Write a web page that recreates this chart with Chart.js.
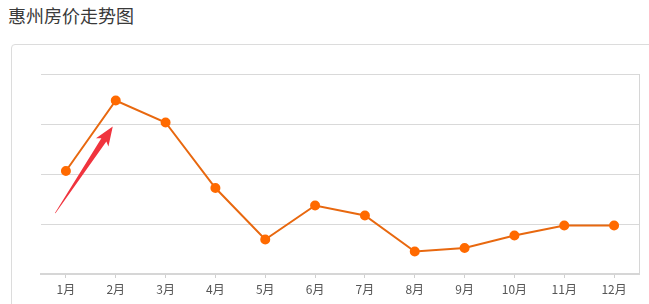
<!DOCTYPE html>
<html>
<head>
<meta charset="utf-8">
<script src="https://cdn.jsdelivr.net/npm/chart.js@4"></script>
<style>
    body { margin: 0; background: #fff; width: 649px; height: 304px; overflow: hidden; position: relative; }
    #title { position: absolute; left: 8px; top: 2px; font: 18px "Noto Sans CJK SC", sans-serif; color: #3a3a3a; }
    #card { position: absolute; left: 11px; top: 44px; width: 700px; height: 300px; border: 1px solid #dcdcdc; border-radius: 4px; background: #fff; }
    #wrap { position: absolute; left: 0; top: 0; width: 649px; height: 304px; }
</style>
</head>
<body>
<div id="title">惠州房价走势图</div>
<div id="card"></div>
<div id="wrap"><canvas id="priceChart"></canvas></div>
<script>
const months = ['1月', '2月', '3月', '4月', '5月', '6月', '7月', '8月', '9月', '10月', '11月', '12月'];
const prices = [2.06, 3.47, 3.03, 1.72, 0.69, 1.37, 1.17, 0.45, 0.52, 0.77, 0.97, 0.97];
// red annotation arrow, in data units: [category index, value]
const arrowFrom = [-0.22, 1.22];
const arrowTo = [0.94, 2.95];

const arrowPlugin = {
    id: 'arrow',
    afterDraw(chart) {
        const x = chart.scales.x, y = chart.scales.y;
        const x0 = x.getPixelForValue(arrowFrom[0]), y0 = y.getPixelForValue(arrowFrom[1]);
        const x1 = x.getPixelForValue(arrowTo[0]), y1 = y.getPixelForValue(arrowTo[1]);
        const len = Math.hypot(x1 - x0, y1 - y0);
        const ctx = chart.ctx;
        ctx.save();
        ctx.translate(x0, y0);
        ctx.rotate(Math.atan2(y1 - y0, x1 - x0));
        ctx.fillStyle = '#f0343e';
        ctx.beginPath();
        ctx.moveTo(0, 0);
        ctx.lineTo(len - 16, -3);
        ctx.lineTo(len - 19, -7.5);
        ctx.lineTo(len, 0);
        ctx.lineTo(len - 19, 7.5);
        ctx.lineTo(len - 16, 3);
        ctx.lineTo(0, 0.6);
        ctx.closePath();
        ctx.fill();
        ctx.restore();
    }
};

const ctx = document.getElementById('priceChart').getContext('2d');
new Chart(ctx, {
    type: 'line',
    data: {
        labels: months,
        datasets: [{
            data: prices,
            borderColor: '#e8680f',
            borderWidth: 2,
            pointBackgroundColor: '#ff6a00',
            pointBorderColor: '#ff6a00',
            pointRadius: 4,
            tension: 0
        }]
    },
    options: {
        responsive: true,
        maintainAspectRatio: false,
        animation: false,
        layout: { padding: { left: 41, right: 10, top: 74, bottom: 0 } },
        plugins: { legend: { display: false }, tooltip: { enabled: false } },
        scales: {
            x: {
                offset: true,
                grid: { drawOnChartArea: false, drawTicks: true, tickLength: 4, color: '#cfcfcf', offset: false },
                border: { color: '#d6d6d6', width: 2 },
                ticks: { color: '#555', font: { size: 12, family: '"Noto Sans CJK SC", sans-serif' }, padding: 4, maxRotation: 0 },
                afterFit(scale) { scale.height = 30; }
            },
            y: {
                min: 0, max: 4,
                ticks: { display: false, stepSize: 1 },
                grid: { color: '#d9d9d9', drawTicks: false },
                border: { display: false },
                afterFit(scale) { scale.width = 0; }
            },
            y2: {
                position: 'right',
                min: 0, max: 4,
                ticks: { display: false },
                grid: { display: false, drawTicks: false },
                border: { color: '#d6d6d6', width: 1 },
                afterFit(scale) { scale.width = 0; }
            }
        }
    },
    plugins: [arrowPlugin]
});
</script>
</body>
</html>
